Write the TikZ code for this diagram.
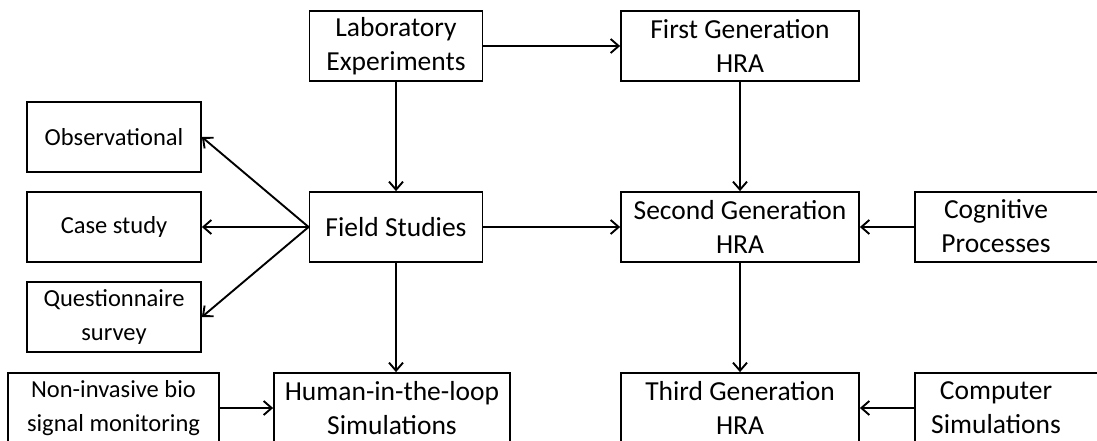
\documentclass[tikz,border=0pt]{standalone}
\usepackage{fontspec}
\setmainfont{Carlito}
\usetikzlibrary{arrows.meta}
\begin{document}
\begin{tikzpicture}[x=1pt,y=-1pt,
  box/.style={draw, line width=1.8pt, minimum height=70pt, align=center,
    inner sep=0pt, font=\fontsize{27.5}{34}\selectfont},
  smallbox/.style={box, font=\fontsize{24.5}{34}\selectfont},
  label/.style={align=center, inner sep=0pt, font=\fontsize{27.5}{34}\selectfont},
  conn/.style={line width=1.9pt, -{Straight Barb[length=8pt,width=14pt,line width=1.9pt]}}]
\useasboundingbox (0,0) rectangle (1097,441);

% left column of research methods
\node[box, minimum width=173pt] (lab) at (396,46) {Laboratory\\Experiments};
\node[box, minimum width=173pt] (field) at (396,227) {Field Studies};
\node[box, minimum width=236pt] (hitl) at (392,408) {Human-in-the-loop\\Simulations};

\node[smallbox, minimum width=174pt] (obs) at (114,137) {Observational};
\node[smallbox, minimum width=174pt] (case) at (114,227) {Case study};
\node[smallbox, minimum width=174pt] (quest) at (114,317) {Questionnaire\\survey};
\node[smallbox, minimum width=211pt] (bio) at (113.5,408) {Non-invasive bio\\signal monitoring};

% HRA generations
\node[box, minimum width=238pt] (first) at (740,46) {First Generation\\HRA};
\node[box, minimum width=238pt] (second) at (740,227) {Second Generation\\HRA};
\node[box, minimum width=238pt] (third) at (740,408) {Third Generation\\HRA};

% inputs on the right, boxes running past the edge
\node[box, minimum width=220pt, anchor=west] (cog) at (914,227) {};
\node[label] (cogtext) at (996,226) {Cognitive\\Processes};
\node[box, minimum width=220pt, anchor=west] (comp) at (914,408) {};
\node[label] (comptext) at (996,408) {Computer\\Simulations};

% connectors
\draw[conn] (lab) -- (first);
\draw[conn] (lab) -- (field);
\draw[conn] (first) -- (second);
\draw[conn] (field) -- (second);
\draw[conn] (second) -- (third);
\draw[conn] (cog.west) -- (second.east);
\draw[conn] (comp.west) -- (third.east);
\draw[conn] (bio.east) -- (hitl.west);
\draw[conn] (field.south) -- (field.south |- hitl.north);
\draw[conn] (field.west) -- (obs.east);
\draw[conn] (field.west) -- (case.east);
\draw[conn] (field.west) -- (quest.east);
\end{tikzpicture}
\end{document}
